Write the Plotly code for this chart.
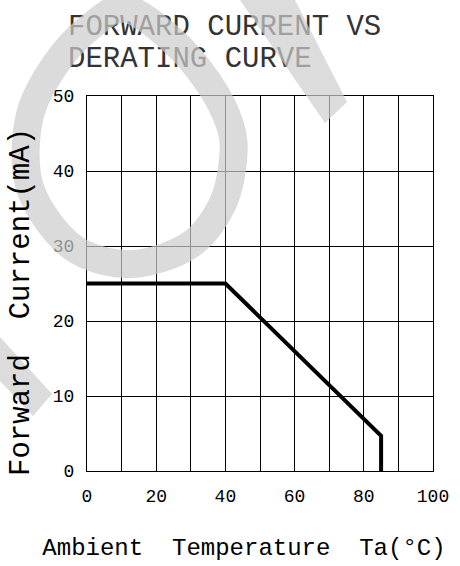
import plotly.graph_objects as go

# ---- data ----
temp_c = [0, 40, 85, 85]
current_ma = [25, 25, 4.7, 0]
x_ticks = [0, 10, 20, 30, 40, 50, 60, 70, 80, 90, 100]
x_tick_labels = ["0", "", "20", "", "40", "", "60", "", "80", "", "100"]
y_ticks = [0, 10, 20, 30, 40, 50]
y_tick_labels = ["0", "10", "20", "30", "40", "50"]
title_lines = ["FORWARD CURRENT VS", "DERATING CURVE"]
x_title = "Ambient\u00a0\u00a0Temperature\u00a0\u00a0Ta(°C)"
y_title = "Forward\u00a0\u00a0Current(mA)"

# ---- layout geometry (page pixels) ----
OFF = 0
FW, FH = 460, 566
PLOT_L, PLOT_R, PLOT_T, PLOT_B = 87, 433, 96, 471
FONT = "Liberation Mono"

fig = go.Figure()
fig.add_trace(go.Scatter(x=temp_c, y=current_ma, mode="lines", xaxis="x", yaxis="y",
                         line=dict(color="black", width=4), hoverinfo="skip",
                         showlegend=False))

# full-page helper axes (page pixel units) for texts and the watermark
fig.add_trace(go.Scatter(x=[68, 68], y=[28, 60], mode="text", text=title_lines,
                         textposition="middle right", xaxis="x2", yaxis="y2",
                         textfont=dict(family=FONT, size=29, color="#333333"),
                         showlegend=False, hoverinfo="skip"))
fig.add_trace(go.Scatter(x=[244], y=[549], mode="text", text=[x_title],
                         textposition="middle center", xaxis="x2", yaxis="y2",
                         textfont=dict(family=FONT, size=24, color="black"),
                         showlegend=False, hoverinfo="skip"))

fig.add_annotation(x=21, y=302, xref="x2", yref="y2", text=y_title,
                   textangle=-90, showarrow=False, xanchor="center", yanchor="middle",
                   font=dict(family=FONT, size=29, color="black"))

# ---- watermark (decoration) ----
ring_pts = [(126, 9), (172, 40), (208, 82), (230, 125), (233, 160), (222, 205),
            (190, 245), (133, 264), (80, 252), (45, 217), (27, 175), (30, 115),
            (55, 65), (90, 27)]
n = len(ring_pts)
path = "M {},{}".format(*ring_pts[0])
for i in range(n):
    p0, p1, p2, p3 = ring_pts[i - 1], ring_pts[i], ring_pts[(i + 1) % n], ring_pts[(i + 2) % n]
    c1 = (p1[0] + (p2[0] - p0[0]) / 6, p1[1] + (p2[1] - p0[1]) / 6)
    c2 = (p2[0] - (p3[0] - p1[0]) / 6, p2[1] - (p3[1] - p1[1]) / 6)
    path += " C {:.2f},{:.2f} {:.2f},{:.2f} {},{}".format(*c1, *c2, *p2)
path += " Z"
wm = "rgb(205,205,205)"
fig.add_shape(type="path", path=path, xref="x2", yref="y2",
              line=dict(color=wm, width=28), fillcolor="rgba(0,0,0,0)",
              opacity=0.7, layer="above")


def poly(points):
    return "M " + " L ".join("{},{}".format(*p) for p in points) + " Z"


fig.add_shape(type="path", path=poly([(240, 0), (295, 0), (347, 102), (325, 123)]),
              xref="x2", yref="y2", line=dict(width=0), fillcolor=wm,
              opacity=0.7, layer="above")
fig.add_shape(type="path", path=poly([(0, 337), (52, 394), (33, 416), (0, 381)]),
              xref="x2", yref="y2", line=dict(width=0), fillcolor=wm,
              opacity=0.7, layer="above")

axis_common = dict(showline=True, mirror=True, linecolor="black", linewidth=1,
                   showgrid=True, gridcolor="black", gridwidth=1, zeroline=False,
                   ticks="", tickfont=dict(family=FONT, size=18, color="black"),
                   fixedrange=True, automargin=False)
fig.update_layout(
    xaxis=dict(range=[0, 100], tickvals=x_ticks, ticktext=x_tick_labels,
               ticklabelstandoff=8, anchor="y",
               domain=[(PLOT_L - OFF) / FW, (PLOT_R - OFF) / FW], **axis_common),
    yaxis=dict(range=[0, 50], tickvals=y_ticks, ticktext=y_tick_labels,
               ticklabelstandoff=8, anchor="x",
               domain=[(OFF + FH - PLOT_B) / FH, (OFF + FH - PLOT_T) / FH], **axis_common),
    xaxis2=dict(range=[OFF, OFF + FW], domain=[0, 1], anchor="y2", visible=False,
                fixedrange=True, automargin=False),
    yaxis2=dict(range=[OFF + FH, OFF], domain=[0, 1], anchor="x2", visible=False,
                fixedrange=True, automargin=False),
    width=FW, height=FH, margin=dict(l=0, r=0, t=0, b=0, autoexpand=False),
    paper_bgcolor="white", plot_bgcolor="rgba(0,0,0,0)", showlegend=False,
    hovermode=False,
)

fig.write_html("out.html", config={"displayModeBar": False, "staticPlot": True},
               post_script="document.body.style.margin='0';document.body.style.overflow='hidden';")
